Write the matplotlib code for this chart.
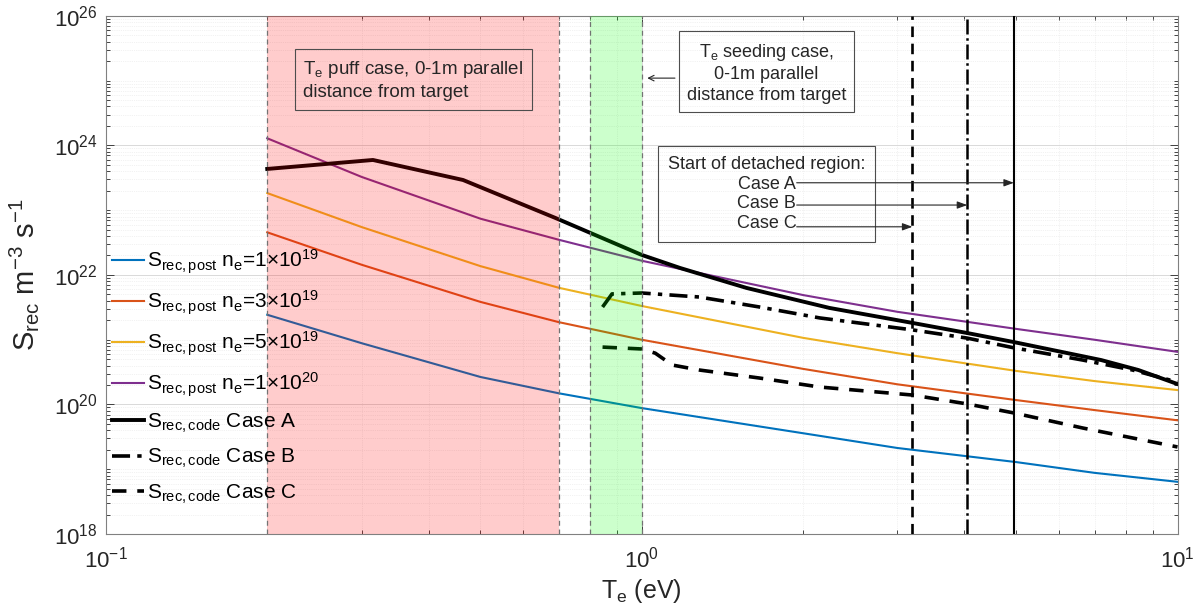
import matplotlib
matplotlib.use("Agg")
import matplotlib.pyplot as plt
from matplotlib.ticker import LogLocator, NullFormatter
import numpy as np

plt.rcParams["font.family"] = ["Liberation Sans", "DejaVu Sans"]
plt.rcParams["mathtext.fontset"] = "custom"
plt.rcParams["mathtext.rm"] = "Liberation Sans"
plt.rcParams["mathtext.it"] = "Liberation Sans:italic"
plt.rcParams["mathtext.default"] = "regular"

INK = "#262626"

# --- data ---
te_post = [0.2, 0.3, 0.5, 0.7, 1.0, 2.0, 3.0, 5.0, 7.0, 10.0]
s_post_1e19 = [2.43e21, 8.85e20, 2.66e20, 1.49e20, 8.8e19, 3.6e19, 2.13e19, 1.29e19, 8.8e18, 6.4e18]
s_post_3e19 = [4.56e22, 1.44e22, 3.84e21, 1.87e21, 1.0e21, 3.55e20, 2.05e20, 1.17e20, 8.2e19, 5.7e19]
s_post_5e19 = [1.84e23, 5.5e22, 1.37e22, 6.35e21, 3.32e21, 1.07e21, 6.2e20, 3.3e20, 2.3e20, 1.67e20]
s_post_1e20 = [1.29e24, 3.27e23, 7.4e22, 3.5e22, 1.66e22, 4.9e21, 2.7e21, 1.47e21, 1.0e21, 6.5e20]
post_labels = ["1×10$^{19}$", "3×10$^{19}$", "5×10$^{19}$", "1×10$^{20}$"]
post_colors = ["#0072BD", "#D95319", "#EDB120", "#7E2F8E"]

te_case_a = [0.2, 0.315, 0.464, 0.69, 1.0, 1.18, 1.57, 2.24, 3.2, 4.05, 4.95, 7.2, 8.45, 10.0]
s_case_a = [4.34e23, 5.97e23, 2.93e23, 7.6e22, 2.04e22, 1.28e22, 6.3e21, 3.1e21, 1.82e21,
            1.27e21, 9.2e20, 4.86e20, 3.41e20, 2.07e20]
te_case_b = [0.845, 0.88, 1.0, 1.28, 1.66, 2.15, 3.2, 4.05, 4.95, 6.65, 8.24, 10.0]
s_case_b = [3.2e21, 5.1e21, 5.27e21, 4.57e21, 3.2e21, 2.17e21, 1.42e21, 1.06e21, 7.5e20, 4.86e20,
            3.41e20, 2.22e20]
te_case_c = [0.845, 1.0, 1.06, 1.14, 1.28, 1.66, 2.15, 3.2, 4.05, 4.95, 6.65, 10.0]
s_case_c = [7.7e20, 7.2e20, 6.2e20, 4.07e20, 3.41e20, 2.56e20, 1.86e20, 1.4e20, 1.02e20, 7.4e19,
            4.34e19, 2.21e19]

case_names = ["Case A", "Case B", "Case C"]
detach_te = [4.95, 4.05, 3.2]
puff_range = (0.2, 0.7)
seed_range = (0.8, 1.0)

# --- figure ---
fig = plt.figure(figsize=(12.04, 6.16), dpi=100)
ax = fig.add_axes([0.088, 0.1331, 0.890, 0.841])
ax.set_xscale("log")
ax.set_yscale("log")

post = [s_post_1e19, s_post_3e19, s_post_5e19, s_post_1e20]
for vals, lab, col in zip(post, post_labels, post_colors):
    ax.plot(te_post, vals, color=col, lw=1.5, zorder=2,
            label="S$_{rec,post}$ n$_{e}$=" + lab)

ax.plot(te_case_a, s_case_a, color="k", lw=2.8, ls="-", zorder=2,
        label="S$_{rec,code}$ Case A")
ax.plot(te_case_b, s_case_b, color="k", lw=2.6, ls=(0, (5, 2, 1.2, 2)), zorder=2,
        label="S$_{rec,code}$ Case B")
ax.plot(te_case_c, s_case_c, color="k", lw=2.6, ls=(0, (4, 3)), zorder=2,
        label="S$_{rec,code}$ Case C")

# shaded Te windows (drawn on top, translucent)
ax.axvspan(*puff_range, color=(1, 0, 0), alpha=0.2, lw=0, zorder=3)
ax.axvspan(*seed_range, color=(0, 1, 0), alpha=0.2, lw=0, zorder=3)
for xv in list(puff_range) + list(seed_range):
    ax.axvline(xv, color="0.45", lw=0.9, ls=(0, (4, 3)), zorder=3)

# detachment markers
det_styles = ["-", (0, (6, 1.5, 1, 1.5)), (0, (4, 2.5))]
det_widths = [1.5, 1.8, 1.9]
for xv, st, w in zip(detach_te, det_styles, det_widths):
    ax.axvline(xv, color="k", lw=w, ls=st, zorder=4)

ax.set_xlim(0.1, 10)
ax.set_ylim(1e18, 1e26)
ax.set_yticks([1e18, 1e20, 1e22, 1e24, 1e26])
ax.yaxis.set_minor_locator(LogLocator(base=10, subs=np.arange(1, 10), numticks=100))
ax.yaxis.set_minor_formatter(NullFormatter())
ax.xaxis.set_minor_locator(LogLocator(base=10, subs=np.arange(2, 10), numticks=100))
ax.xaxis.set_minor_formatter(NullFormatter())
ax.tick_params(which="both", direction="in", top=True, right=True, colors=INK,
               labelsize=16, width=0.6)
ax.tick_params(axis="x", which="major", pad=9)
ax.tick_params(axis="y", which="major", pad=6)
ax.tick_params(which="major", length=6)
ax.tick_params(which="minor", length=3)
for sp in ax.spines.values():
    sp.set_color("0.5")
    sp.set_linewidth(0.8)
ax.grid(True, which="major", color="0.85", lw=0.7)
ax.grid(True, which="minor", color="0.9", lw=0.5, ls=":")
ax.set_axisbelow(True)

ax.set_xlabel("T$_{e}$ (eV)", fontsize=18, color=INK, labelpad=3)
ax.set_ylabel("S$_{rec}$ m$^{-3}$ s$^{-1}$", fontsize=21, color=INK, labelpad=9)

ax.legend(loc="upper left", bbox_to_anchor=(0.0, 0.5647), frameon=False, fontsize=15,
          handlelength=1.55, handletextpad=0.1, borderaxespad=0.2, labelspacing=0.6,
          borderpad=0.1)

# annotation boxes
box = dict(boxstyle="square,pad=0.45", fc="none", ec="0.3", lw=0.8)
ax.text(0.184, 0.876, "T$_{e}$ puff case, 0-1m parallel\ndistance from target",
        transform=ax.transAxes, ha="left", va="center", fontsize=13.5, color=INK,
        bbox=box, zorder=5, linespacing=1.3)
ax.text(0.6166, 0.890, "T$_{e}$ seeding case,\n0-1m parallel\ndistance from target",
        transform=ax.transAxes, ha="center", va="center", fontsize=13, color=INK,
        bbox=box, zorder=5, linespacing=1.3)
ax.annotate("", xy=(seed_range[1] * 1.012, 0.880), xycoords=("data", "axes fraction"),
            xytext=(0.5336, 0.880), textcoords="axes fraction",
            arrowprops=dict(arrowstyle="->", color=INK, lw=0.8), zorder=5)

ax.text(0.6166, 0.656, "Start of detached region:\n" + "\n".join(case_names),
        transform=ax.transAxes, ha="center", va="center", fontsize=13, color=INK,
        bbox=dict(boxstyle="square,pad=0.55", fc="none", ec="0.3", lw=0.8),
        zorder=5, linespacing=1.2)
for xv, yy in zip(detach_te, [0.678, 0.635, 0.593]):
    ax.annotate("", xy=(xv, yy), xycoords=("data", "axes fraction"),
                xytext=(0.6446, yy), textcoords="axes fraction",
                arrowprops=dict(arrowstyle="-|>,head_length=0.6,head_width=0.22",
                                color=INK, lw=0.8, shrinkA=0, shrinkB=0), zorder=5)

fig.savefig("out.png", dpi=100)
